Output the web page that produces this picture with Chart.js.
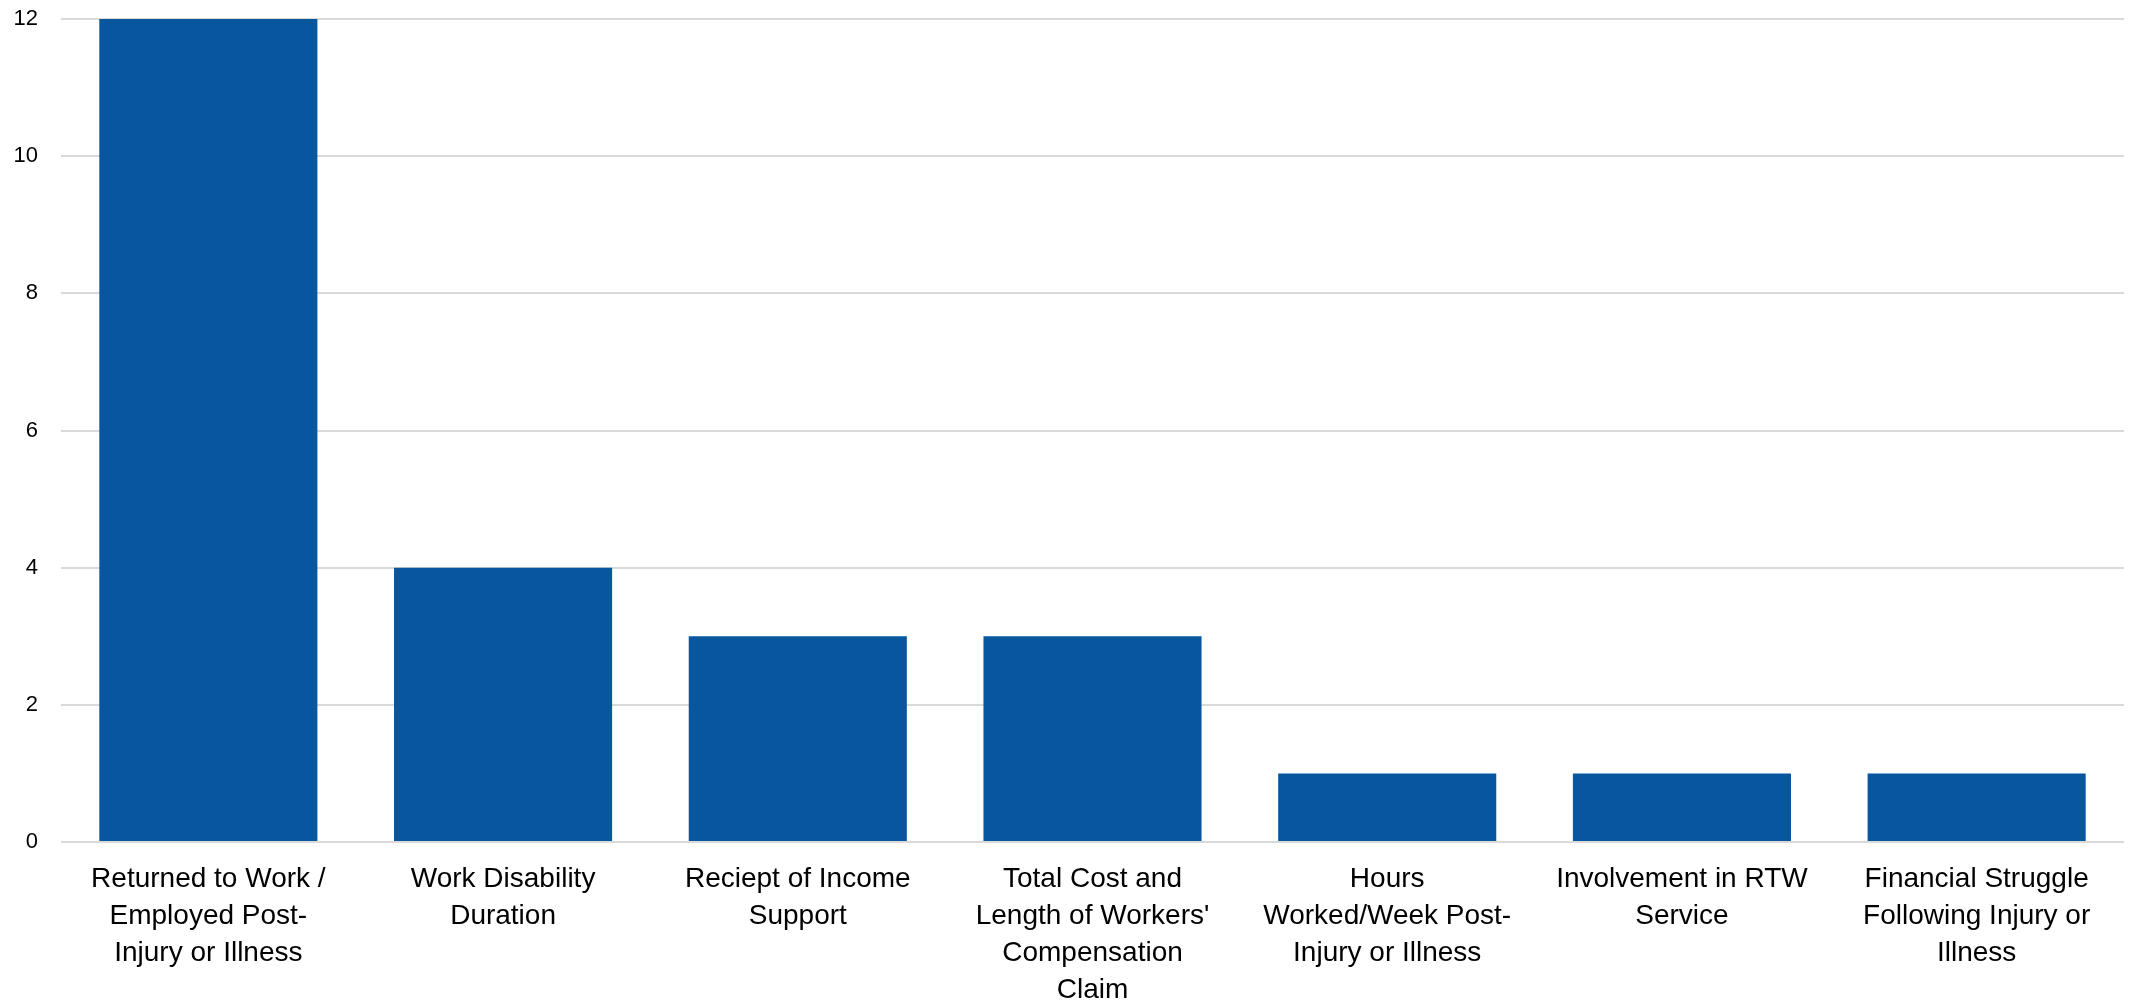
<!DOCTYPE html>
<html>
<head>
<meta charset="utf-8">
<script src="https://cdn.jsdelivr.net/npm/chart.js@4/dist/chart.umd.min.js"></script>
<style>
  html, body { margin: 0; padding: 0; background: #fff; }
  #wrap { width: 2139px; height: 1005px; position: relative; }
</style>
</head>
<body>
<div id="wrap"><canvas id="outcomeChart"></canvas></div>
<script>
// outcome categories, each split into the lines shown under the bars
const categories = [
    ["Returned to Work /", "Employed Post-", "Injury or Illness"],
    ["Work Disability", "Duration"],
    ["Reciept of Income", "Support"],
    ["Total Cost and", "Length of Workers'", "Compensation", "Claim"],
    ["Hours", "Worked/Week Post-", "Injury or Illness"],
    ["Involvement in RTW", "Service"],
    ["Financial Struggle", "Following Injury or", "Illness"]
];
const studyCounts = [12, 4, 3, 3, 1, 1, 1];
const yTicks = [0, 2, 4, 6, 8, 10, 12];

const barColor = '#07569E';
const gridColor = '#d9d9d9';

function drawOutcomeChart() {
    const ctx = document.getElementById('outcomeChart').getContext('2d');

    new Chart(ctx, {
        type: 'bar',
        data: {
            labels: categories,
            datasets: [{
                label: 'Studies',
                data: studyCounts,
                backgroundColor: barColor,
                borderWidth: 0,
                categoryPercentage: 1,
                barPercentage: 0.74
            }]
        },
        options: {
            responsive: true,
            maintainAspectRatio: false,
            animation: false,
            layout: { padding: { top: 19, right: 15, left: 0, bottom: 0 } },
            plugins: {
                legend: { display: false },
                tooltip: { enabled: false }
            },
            scales: {
                x: {
                    grid: { display: false, drawTicks: false },
                    border: { display: false },
                    ticks: {
                        color: '#000',
                        padding: 19,
                        maxRotation: 0,
                        autoSkip: false,
                        font: { family: "'Liberation Sans Narrow', 'Arial Narrow', 'Liberation Sans', Arial, sans-serif", size: 28, lineHeight: 1.32 }
                    },
                    afterFit: scale => { scale.height = 163; }
                },
                y: {
                    min: 0,
                    max: yTicks[yTicks.length - 1],
                    afterBuildTicks: scale => { scale.ticks = yTicks.map(v => ({ value: v })); },
                    // invisible tick marks push the labels away from the plot
                    // without adding the tick padding above the top gridline
                    grid: { color: gridColor, lineWidth: 2, drawTicks: true, tickLength: 23, tickColor: 'rgba(0,0,0,0)' },
                    border: { display: false },
                    ticks: {
                        color: '#000',
                        padding: 0,
                        font: { family: "'Liberation Sans', Arial, sans-serif", size: 22 }
                    },
                    afterFit: scale => { scale.width = 61; }
                }
            }
        }
    });
}

drawOutcomeChart();
</script>
</body>
</html>
